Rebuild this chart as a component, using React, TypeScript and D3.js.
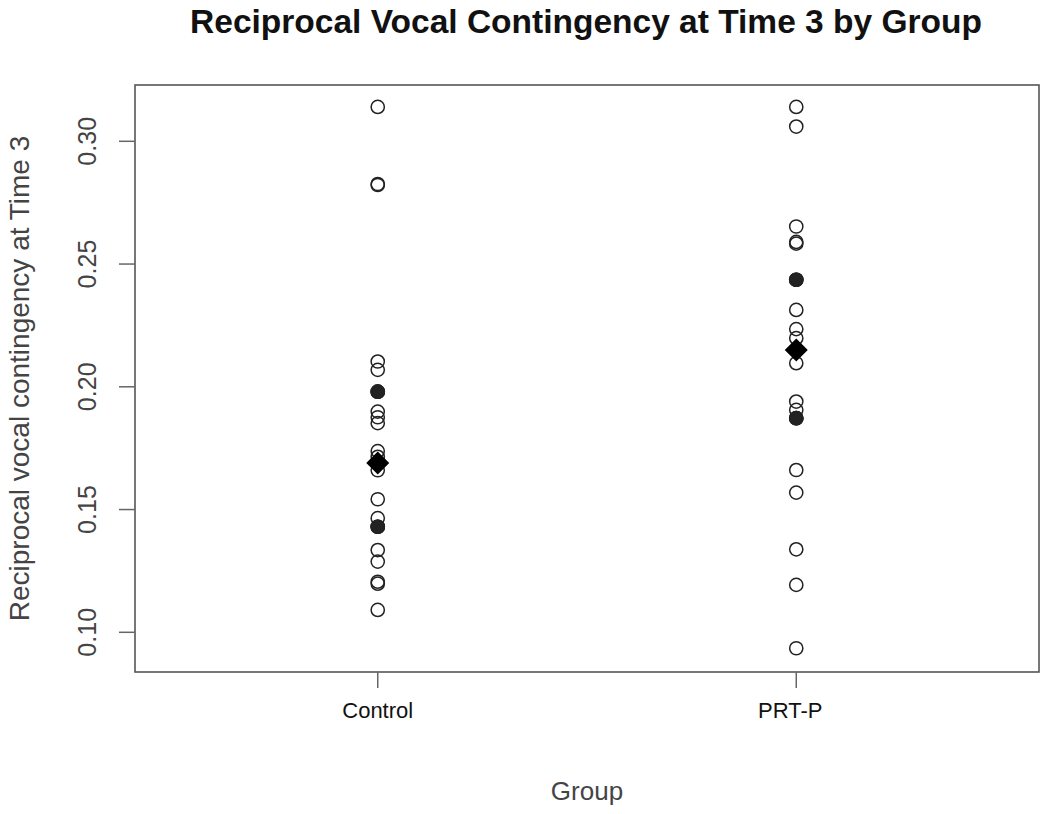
import React from "react";
import * as d3 from "d3";

const groups = ["Control", "PRT-P"];
const controlValues = [
  0.314, 0.2826, 0.2822, 0.2103, 0.2069, 0.198, 0.198, 0.198, 0.1899, 0.1876,
  0.1852, 0.1738, 0.1715, 0.166, 0.1542, 0.1465, 0.143, 0.143, 0.143, 0.1335,
  0.1288, 0.1206, 0.1198, 0.1091,
];
const prtValues = [
  0.314, 0.306, 0.2653, 0.259, 0.2583, 0.2436, 0.2436, 0.2436, 0.2313, 0.2235,
  0.2198, 0.2096, 0.194, 0.1906, 0.1872, 0.1872, 0.1872, 0.1661, 0.1569,
  0.1338, 0.1193, 0.0935,
];
const groupMeans = [0.169, 0.215];
const yTicks = [0.1, 0.15, 0.2, 0.25, 0.3];

const W = 1050;
const H = 814;
const FONT = "'Liberation Sans', Arial, Helvetica, sans-serif";

export default function App() {
  const left = 135, right = 1039, top = 85, bottom = 672;
  const x = d3.scaleLinear().domain([0.42, 2.58]).range([left, right]);
  const y = d3.scaleLinear().domain([0.1, 0.3]).range([632.3, 141.3]);
  const series = [controlValues, prtValues];

  const diamond = (cx: number, cy: number, r: number) =>
    `M${cx},${cy - r}L${cx + r},${cy}L${cx},${cy + r}L${cx - r},${cy}Z`;

  return (
    <svg
      width={W}
      height={H}
      style={{ position: "absolute", left: 0, top: 0, background: "#fff" }}
      fontFamily={FONT}
    >
      <text x={586} y={33} textAnchor="middle" fontSize={33.5} fontWeight="bold" fill="#111">
        Reciprocal Vocal Contingency at Time 3 by Group
      </text>

      {/* plot box */}
      <rect
        x={left}
        y={top}
        width={right - left}
        height={bottom - top}
        fill="none"
        stroke="#555"
        strokeWidth={1.6}
      />

      {/* y axis ticks */}
      {yTicks.map((t) => (
        <g key={t}>
          <line x1={left - 16} x2={left} y1={y(t)} y2={y(t)} stroke="#666" strokeWidth={1.5} />
          <text
            transform={`translate(96,${y(t)}) rotate(-90)`}
            textAnchor="middle"
            fontSize={25}
            fill="#444"
          >
            {t.toFixed(2)}
          </text>
        </g>
      ))}

      {/* x axis ticks */}
      {groups.map((g, i) => (
        <g key={g}>
          <line x1={x(i + 1)} x2={x(i + 1)} y1={bottom} y2={bottom + 16} stroke="#666" strokeWidth={1.5} />
          <text x={x(i + 1) - (i === 1 ? 6 : 0)} y={718} textAnchor="middle" fontSize={22} fill="#111">
            {g}
          </text>
        </g>
      ))}

      <text x={587} y={800} textAnchor="middle" fontSize={26} fill="#444">
        Group
      </text>
      <text
        transform={`translate(29,${(top + bottom) / 2}) rotate(-90)`}
        textAnchor="middle"
        fontSize={28}
        fill="#444"
      >
        Reciprocal vocal contingency at Time 3
      </text>

      {/* points */}
      {series.map((vals, i) => {
        const counts = d3.rollup(vals, (v) => v.length, (d) => d);
        return (
          <g key={i}>
            {vals.map((v, j) => (
              <circle
                key={j}
                cx={x(i + 1)}
                cy={y(v)}
                r={6.6}
                fill={(counts.get(v) || 0) >= 3 ? "#222" : "none"}
                stroke="#222"
                strokeWidth={1.5}
              />
            ))}
          </g>
        );
      })}

      {/* means */}
      {groupMeans.map((m, i) => (
        <path key={i} d={diamond(x(i + 1), y(m), 11.5)} fill="#000" />
      ))}
    </svg>
  );
}
